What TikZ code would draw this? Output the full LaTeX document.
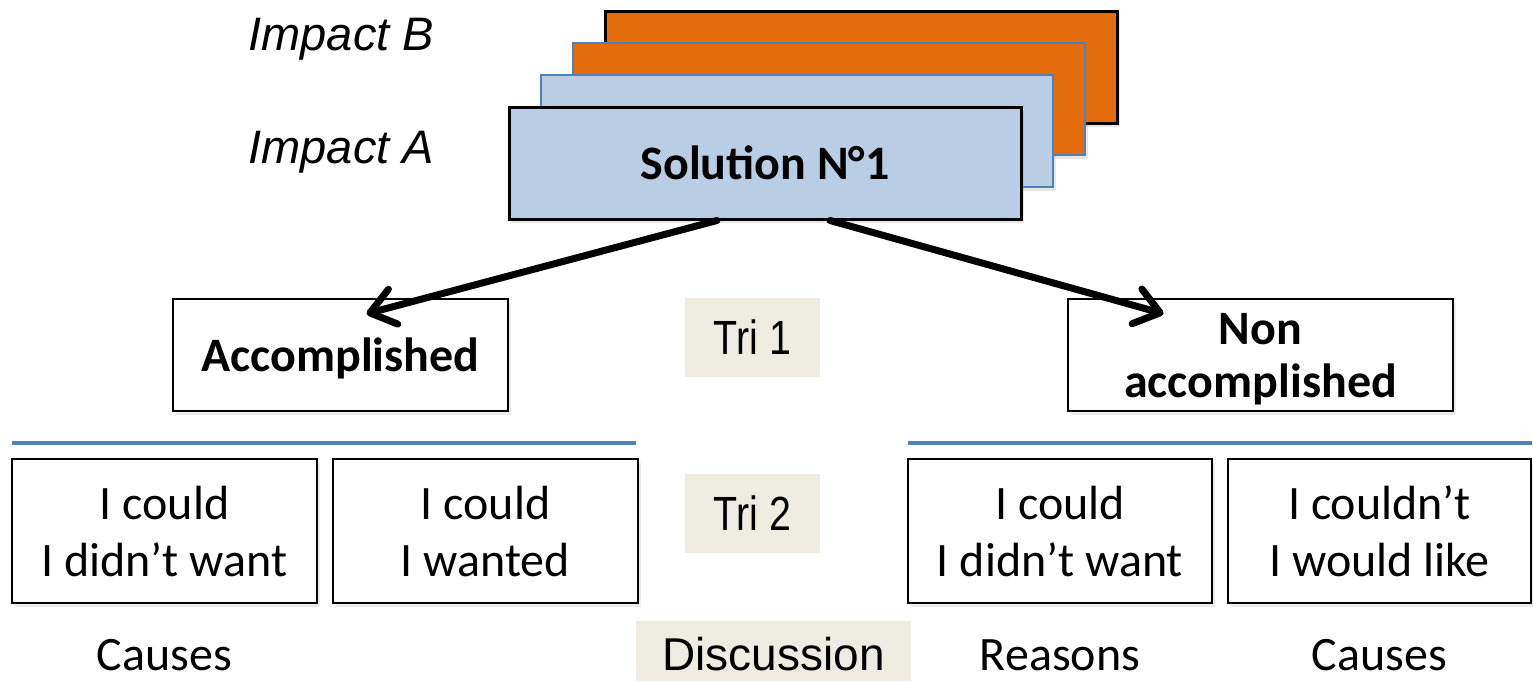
\documentclass[tikz,border=0pt]{standalone}
\usepackage{fontspec}
\setmainfont{Carlito}
\newfontfamily\arialfont{Liberation Sans}
\newfontfamily\narrowfont{Liberation Sans}[FakeStretch=0.82]
\usetikzlibrary{arrows.meta,shadows}

\definecolor{solblue}{HTML}{B9CDE5}
\definecolor{edgeblue}{HTML}{4F81BD}
\definecolor{impactorange}{HTML}{E46C0A}
\definecolor{tribeige}{HTML}{EEECE1}

\tikzset{
  card/.style={draw=black, line width=3pt, minimum width=512pt, minimum height=112pt,
    inner sep=0pt, drop shadow={shadow xshift=3pt, shadow yshift=-4pt, opacity=.2}},
  bluecard/.style={card, draw=edgeblue, line width=2.5pt},
  box/.style={draw=black, line width=2.5pt, fill=white, inner sep=0pt, align=center,
    drop shadow={shadow xshift=3pt, shadow yshift=-4pt, opacity=.15}},
  tag/.style={fill=tribeige, inner sep=0pt, font=\narrowfont\fontsize{48}{52}\selectfont},
  impact/.style={anchor=base west, font=\arialfont\itshape\fontsize{47}{52}\selectfont},
  flow/.style={line width=7pt, line cap=round,
    -{Straight Barb[length=24pt, width=36pt, round]}},
  sepline/.style={draw=edgeblue, line width=4pt}
}

\begin{document}
\begin{tikzpicture}[x=1pt, y=-1pt, every node/.style={font=\fontsize{48}{57}\selectfont}]
  \useasboundingbox (0,0) rectangle (1533,681);
  \clip (0,0) rectangle (1533,681);

  % impacts
  \node[impact] (impB) at (245,50) {Impact B};
  \node[impact] (impA) at (245,163) {Impact A};

  % stacked solutions
  \node[card, fill=impactorange] (solD) at (861,67) {};
  \node[bluecard, fill=impactorange] (solC) at (829,99) {};
  \node[bluecard, fill=solblue] (solB) at (797,131) {};
  \node[card, fill=solblue, font=\bfseries\fontsize{48}{57}\selectfont] (sol) at (765,163) {Solution N°1};

  % first sort
  \node[box, minimum width=335pt, minimum height=112pt, text depth=0pt, font=\bfseries\fontsize{48}{57}\selectfont] (acc) at (340.5,355) {Accomplished};
  \node[box, minimum width=385pt, minimum height=112pt, text depth=0pt, font=\bfseries\fontsize{48}{53}\selectfont] (nonacc) at (1260.5,355) {Non\\accomplished};
  \node[tag, minimum width=135pt, minimum height=79pt] (tri1) at (752.5,337.5) {Tri 1};

  \draw[flow] ([xshift=-48pt]sol.south) -- ([xshift=26pt,yshift=-16pt]acc.north);
  \draw[flow] ([xshift=65pt]sol.south) -- ([xshift=-97pt,yshift=-16pt]nonacc.north);

  \draw[sepline] (12,443) -- (636,443);
  \draw[sepline] (908,443) -- (1532,443);

  % second sort
  \node[box, minimum width=305pt, minimum height=144pt] (accA) at (164.5,531) {I could\\I didn’t want};
  \node[box, minimum width=305pt, minimum height=144pt] (accB) at (485.5,531) {I could\\I wanted};
  \node[box, minimum width=304pt, minimum height=144pt] (nonA) at (1060,531) {I could\\I didn’t want};
  \node[box, minimum width=303pt, minimum height=144pt] (nonB) at (1379.5,531) {I couldn’t\\I would like};
  \node[tag, minimum width=135pt, minimum height=79pt] (tri2) at (752.5,513.5) {Tri 2};

  % bottom row
  \node[anchor=base] (causesA) at (164.5,670) {Causes};
  \node[tag, minimum width=275pt, minimum height=60pt, text height=38pt, text depth=0pt,
    font=\arialfont\fontsize{46}{50}\selectfont] (disc) at (773.5,651) {Discussion};
  \node[anchor=base] (reasons) at (1060,670) {Reasons};
  \node[anchor=base] (causesB) at (1379.5,670) {Causes};
\end{tikzpicture}
\end{document}
